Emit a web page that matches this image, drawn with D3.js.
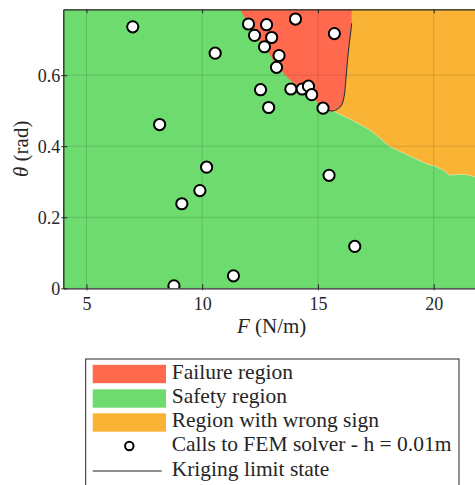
<!DOCTYPE html>
<html>
<head>
<meta charset="utf-8">
<script src="https://cdn.jsdelivr.net/npm/d3@7"></script>
<style>
  html, body { margin: 0; padding: 0; background: #fff; }
  svg { display: block; }
  svg text { font-family: "Liberation Serif", "DejaVu Serif", serif !important; fill: #262626; }
</style>
</head>
<body>
<svg id="chart" width="475" height="485"></svg>
<script>
// FEM solver calls: load F (N/m) and angle theta (rad)
const callF     = [7.00, 10.56, 8.16, 10.19, 9.90, 9.12, 8.78, 11.35, 15.48, 16.59,
                   12.00, 12.78, 14.03, 15.71, 12.26, 13.00, 12.69, 13.32, 13.21,
                   12.52, 13.83, 14.32, 14.59, 14.73, 15.22, 12.87];
const callTheta = [0.736, 0.662, 0.461, 0.341, 0.275, 0.238, 0.007, 0.035, 0.318, 0.118,
                   0.744, 0.742, 0.758, 0.717, 0.712, 0.706, 0.680, 0.655, 0.622,
                   0.559, 0.561, 0.561, 0.569, 0.545, 0.507, 0.509];

// Lower edge of the failure region (failure / safety)
const failEdgeF     = [11.63, 12.00, 12.26, 12.69, 13.21, 13.78, 14.30, 14.73, 15.22, 15.45];
const failEdgeTheta = [0.7854, 0.744, 0.712, 0.680, 0.629, 0.587, 0.561, 0.541, 0.507, 0.501];

// Kriging limit state (zero level of the surrogate)
const krigF     = [15.45, 15.65, 15.85, 16.02, 16.13, 16.20, 16.26, 16.33, 16.40, 16.46];
const krigTheta = [0.501, 0.499, 0.505, 0.516, 0.540, 0.582, 0.629, 0.676, 0.714, 0.746];

// Lower edge of the wrong-sign region (wrong sign / safety)
const wrongEdgeF     = [15.65, 16.52, 17.24, 18.10, 18.39, 19.40, 19.83, 20.05, 20.40, 20.69, 21.12, 21.41, 21.77, 22.00];
const wrongEdgeTheta = [0.499, 0.472, 0.446, 0.399, 0.390, 0.359, 0.347, 0.344, 0.333, 0.318, 0.321, 0.320, 0.314, 0.311];

const xTicks = [5, 10, 15, 20];
const yTicks = [0, 0.2, 0.4, 0.6];
const yTickLabels = ["0", "0.2", "0.4", "0.6"];

const legendLabels = ["Failure region", "Safety region", "Region with wrong sign",
                      "Calls to FEM solver - h = 0.01m", "Kriging limit state"];

const colors = { fail: "#ff6a4f", safe: "#6edb6f", wrong: "#fab435" };

const thetaMax = Math.PI / 4;
const svg = d3.select("#chart");
const x = d3.scaleLinear().domain([4, 22]).range([63.3, 480]);
const y = d3.scaleLinear().domain([0, thetaMax]).range([288.3, 9.3]);

const pts = (fs, ts) => fs.map((f, i) => [f, ts[i]]);
const smooth = d3.line().x(d => x(d[0])).y(d => y(d[1])).curve(d3.curveCatmullRom);
const straight = d3.line().x(d => x(d[0])).y(d => y(d[1]));
const cont = s => "L" + s.slice(1);   // continue a path with another segment

const failEdge = pts(failEdgeF, failEdgeTheta);
const krig = pts(krigF, krigTheta);
const krigTop = krig[krig.length - 1];
const wrongEdge = pts(wrongEdgeF, wrongEdgeTheta);

svg.append("defs").append("clipPath").attr("id", "plot")
  .append("rect").attr("x", x(4)).attr("y", y(thetaMax))
  .attr("width", x(22) - x(4)).attr("height", y(0) - y(thetaMax));

const plot = svg.append("g").attr("clip-path", "url(#plot)");

// safety background
plot.append("rect").attr("x", x(4)).attr("y", y(thetaMax))
  .attr("width", x(22) - x(4)).attr("height", y(0) - y(thetaMax))
  .attr("fill", colors.safe);

// failure region
plot.append("path").attr("fill", colors.fail)
  .attr("d", smooth(failEdge) + cont(smooth(krig))
      + cont(straight([krigTop, [krigTop[0], thetaMax]])) + "Z");

// wrong-sign region
plot.append("path").attr("fill", colors.wrong)
  .attr("d", straight([[krigTop[0], thetaMax], krigTop])
      + cont(smooth(krig.slice().reverse().slice(0, krig.length - 1)))
      + cont(straight(wrongEdge))
      + cont(straight([[22, thetaMax]])) + "Z");

// pale edge along the wrong-sign contour
plot.append("path").attr("fill", "none")
  .attr("stroke", "#fff").attr("stroke-opacity", 0.55).attr("stroke-width", 0.8)
  .attr("d", straight(wrongEdge));

// grid
const grid = plot.append("g").attr("stroke", "#000").attr("stroke-opacity", 0.13).attr("stroke-width", 1);
xTicks.forEach(t => grid.append("line").attr("x1", x(t)).attr("x2", x(t)).attr("y1", y(0)).attr("y2", y(thetaMax)));
yTicks.forEach(t => grid.append("line").attr("x1", x(4)).attr("x2", x(22)).attr("y1", y(t)).attr("y2", y(t)));

// Kriging limit state
plot.append("path").attr("fill", "none").attr("stroke", "#333").attr("stroke-width", 1.1)
  .attr("d", smooth(krig));

// FEM calls
plot.selectAll("circle.call").data(pts(callF, callTheta)).join("circle")
  .attr("class", "call")
  .attr("cx", d => x(d[0])).attr("cy", d => y(d[1])).attr("r", 5.6)
  .attr("fill", "#fff").attr("stroke", "#000").attr("stroke-width", 2);

// axes (ticks pointing inward)
const xAxis = d3.axisBottom(x).tickValues(xTicks).tickSizeInner(-4).tickSizeOuter(0).tickPadding(9);
const yAxis = d3.axisLeft(y).tickValues(yTicks).tickFormat((d, i) => yTickLabels[i]).tickSizeInner(-4).tickSizeOuter(0).tickPadding(3);
const gx = svg.append("g").attr("transform", `translate(0,${y(0)})`).call(xAxis);
const gy = svg.append("g").attr("transform", `translate(${x(4)},0)`).call(yAxis);
const gxTop = svg.append("g").attr("transform", `translate(0,${y(thetaMax)})`)
  .call(d3.axisTop(x).tickValues(xTicks).tickSizeInner(-4).tickSizeOuter(0).tickFormat(""));
[gx, gy, gxTop].forEach(g => {
  g.attr("font-family", null);
  g.select(".domain").attr("stroke", "#262626").attr("stroke-width", 1.3);
  g.selectAll(".tick line").attr("stroke", "#262626");
  g.selectAll(".tick text").attr("font-size", 18).attr("fill", "#262626");
});
gy.selectAll(".tick line").attr("x1", -2);
gx.selectAll(".tick line").attr("y1", 2);
gy.selectAll(".tick text").attr("dy", "0.35em");

// axis titles
const xt = svg.append("text").attr("x", (x(4) + x(22)) / 2).attr("y", 333)
  .attr("text-anchor", "middle").attr("font-size", 21);
xt.append("tspan").attr("font-style", "italic").text("F");
xt.append("tspan").text(" (N/m)");

const yt = svg.append("text").attr("transform", `translate(28,${(y(0) + y(thetaMax)) / 2}) rotate(-90)`)
  .attr("text-anchor", "middle").attr("font-size", 21);
yt.append("tspan").attr("font-style", "italic").text("θ");
yt.append("tspan").text(" (rad)");

// legend
const lg = svg.append("g");
lg.append("rect").attr("x", 85.7).attr("y", 359).attr("width", 373.3).attr("height", 140)
  .attr("fill", "#fff").attr("stroke", "#262626").attr("stroke-width", 1);
const rowY = [374, 398.5, 422.5, 446, 471];
[colors.fail, colors.safe, colors.wrong].forEach((c, i) =>
  lg.append("rect").attr("x", 92.7).attr("y", rowY[i] - 9.2).attr("width", 73.3).attr("height", 18.4).attr("fill", c));
lg.append("circle").attr("cx", 129.3).attr("cy", rowY[3]).attr("r", 4.2)
  .attr("fill", "#fff").attr("stroke", "#000").attr("stroke-width", 2);
lg.append("line").attr("x1", 92.7).attr("x2", 161.7).attr("y1", rowY[4]).attr("y2", rowY[4])
  .attr("stroke", "#222").attr("stroke-width", 1.2);
legendLabels.forEach((t, i) =>
  lg.append("text").attr("x", 171.7).attr("y", rowY[i]).attr("dy", "0.22em")
    .attr("font-size", 21.5).text(t));
</script>
</body>
</html>
